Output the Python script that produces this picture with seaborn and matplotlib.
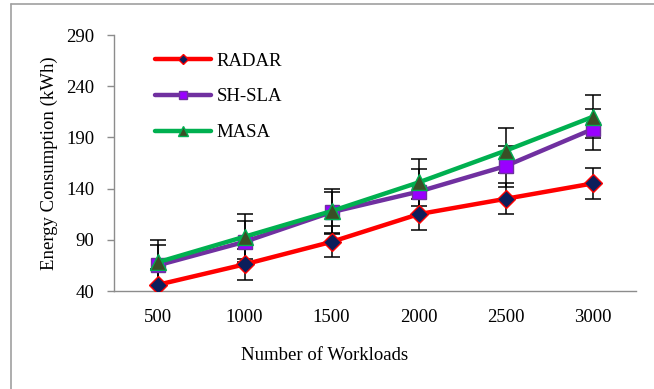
import matplotlib
matplotlib.use("Agg")
import matplotlib.pyplot as plt
from matplotlib.lines import Line2D
import seaborn as sns
import pandas as pd

# Workload sizes (categorical x axis)
workloads = ["500", "1000", "1500", "2000", "2500", "3000"]

# Energy consumption (kWh) per algorithm
radar = [46, 66, 88, 115, 130, 145]
sh_sla = [65, 88, 117, 137, 162, 198]
masa = [68, 93, 118, 146, 177, 210]

# Error-bar half widths (kWh)
radar_err = [15, 15, 15, 15, 15, 15]
sh_sla_err = [20, 20, 20, 22, 20, 20]
masa_err = [22, 22, 22, 23, 22, 21]

y_ticks = [40, 90, 140, 190, 240, 290]

sns.set_theme(style="white")
plt.rcParams["font.family"] = ["Liberation Serif", "DejaVu Serif"]

FS = 13.5

fig = plt.figure(figsize=(6.54, 3.89), dpi=100)
ax = fig.add_axes([114 / 654, 1 - 291 / 389, (636 - 114) / 654, (291 - 35) / 389])

series = [
    ("RADAR", radar, radar_err, dict(color="#FF0000", marker="D", ms=9,
                                     mfc="#0C1E5B", mec="#FF0000", mew=1.0)),
    ("SH-SLA", sh_sla, sh_sla_err, dict(color="#7030A0", marker="s", ms=10.5,
                                        mfc="#9900FF", mec="#7030A0", mew=1.0)),
    ("MASA", masa, masa_err, dict(color="#00B050", marker="^", ms=11.5,
                                  mfc="#3A4F26", mec="#00B050", mew=1.0)),
]

for name, vals, errs, st in series:
    ax.errorbar(workloads, vals, yerr=errs, fmt="none", ecolor="black",
                elinewidth=1.1, capsize=6, capthick=1.1, zorder=2)

for name, vals, errs, st in series:
    df = pd.DataFrame({"Workloads": workloads, "Energy": vals})
    sns.lineplot(data=df, x="Workloads", y="Energy", sort=False, ax=ax,
                 label=name, color=st["color"], lw=3.2, marker=st["marker"],
                 markersize=st["ms"], markerfacecolor=st["mfc"],
                 markeredgecolor=st["mec"], markeredgewidth=st["mew"],
                 zorder=3)

ax.set_xlim(-0.5, 5.5)
ax.set_ylim(40, 290)
ax.set_yticks(y_ticks)
ax.set_yticklabels([str(v) for v in y_ticks])

for side in ["top", "right"]:
    ax.spines[side].set_visible(False)
for side in ["left", "bottom"]:
    ax.spines[side].set_color("#8C8C8C")
    ax.spines[side].set_linewidth(1.0)

ax.tick_params(axis="y", which="major", left=True, length=5, width=1.0,
               color="#8C8C8C", pad=9, labelsize=FS, labelcolor="black")
ax.tick_params(axis="x", which="major", bottom=False, pad=7, labelsize=FS,
               labelcolor="black")
ax.grid(False)

ax.set_xlabel("")
ax.set_ylabel("Energy Consumption (kWh)", fontsize=FS, color="black", labelpad=6)
fig.text(325 / 654, 1 - 355 / 389, "Number of Workloads", ha="center",
         va="center", fontsize=FS, color="black")

leg = ax.legend(loc="upper left", bbox_to_anchor=(0.078, 0.932), frameon=False,
                fontsize=FS, handlelength=3.0, handletextpad=0.3,
                labelspacing=1.0, numpoints=1, markerscale=0.6,
                borderpad=0, borderaxespad=0)
for t in leg.get_texts():
    t.set_color("black")

# outer frame (left and top edges)
fig.add_artist(Line2D([11 / 654, 11 / 654], [0, 1 - 4 / 389], transform=fig.transFigure,
                      color="#A0A0A0", lw=1.2))
fig.add_artist(Line2D([11 / 654, 1], [1 - 4 / 389, 1 - 4 / 389], transform=fig.transFigure,
                      color="#A0A0A0", lw=1.2))

fig.savefig("out.png", dpi=100)
